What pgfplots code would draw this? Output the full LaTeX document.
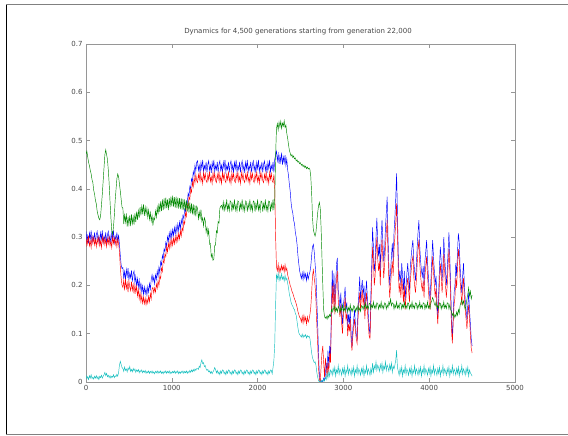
\documentclass[border=0pt]{standalone}
\usepackage{fontspec}
\setmainfont{DejaVu Sans}
\usepackage{pgfplots}
\usepackage{pgfplotstable}
\pgfplotsset{compat=1.18}
\definecolor{sgreen}{RGB}{0,135,0}
\definecolor{scyan}{RGB}{20,190,190}
\definecolor{axgray}{RGB}{150,150,150}
\definecolor{txgray}{RGB}{70,70,70}
\pgfplotstableread{
x b r g c
0 0.312 0.280 0.472 0.014
10 0.292 0.297 0.478 0.007
20 0.303 0.286 0.466 0.011
30 0.287 0.303 0.455 0.005
40 0.309 0.282 0.448 0.013
50 0.296 0.292 0.438 0.008
60 0.314 0.278 0.431 0.015
70 0.289 0.301 0.419 0.007
80 0.302 0.287 0.413 0.010
90 0.294 0.299 0.397 0.006
100 0.310 0.284 0.389 0.012
110 0.288 0.296 0.376 0.008
120 0.305 0.280 0.369 0.013
130 0.312 0.297 0.354 0.007
140 0.292 0.286 0.346 0.011
150 0.303 0.303 0.339 0.005
160 0.287 0.282 0.336 0.012
170 0.309 0.292 0.344 0.009
180 0.296 0.278 0.366 0.014
190 0.314 0.301 0.389 0.008
200 0.289 0.287 0.416 0.012
210 0.302 0.299 0.444 0.015
220 0.294 0.284 0.471 0.020
230 0.310 0.296 0.481 0.013
240 0.288 0.280 0.471 0.018
250 0.305 0.297 0.461 0.011
260 0.312 0.286 0.439 0.014
270 0.292 0.303 0.411 0.009
280 0.303 0.282 0.374 0.013
290 0.287 0.292 0.341 0.008
300 0.309 0.278 0.314 0.012
310 0.296 0.301 0.306 0.010
320 0.314 0.287 0.321 0.015
330 0.289 0.299 0.344 0.009
340 0.302 0.284 0.376 0.013
350 0.294 0.296 0.399 0.011
360 0.310 0.280 0.421 0.016
370 0.288 0.297 0.431 0.012
380 0.305 0.286 0.425 0.020
390 0.285 0.270 0.410 0.035
400 0.262 0.238 0.395 0.043
410 0.242 0.215 0.378 0.036
420 0.235 0.200 0.362 0.030
430 0.237 0.196 0.360 0.028
440 0.214 0.211 0.327 0.022
450 0.229 0.190 0.346 0.031
460 0.212 0.213 0.331 0.024
470 0.233 0.194 0.349 0.027
480 0.219 0.205 0.322 0.021
490 0.236 0.186 0.342 0.029
500 0.211 0.209 0.326 0.025
510 0.225 0.197 0.345 0.032
520 0.216 0.189 0.323 0.022
530 0.231 0.208 0.347 0.026
540 0.208 0.190 0.328 0.021
550 0.224 0.202 0.342 0.028
560 0.230 0.183 0.326 0.023
570 0.206 0.201 0.349 0.027
580 0.219 0.186 0.331 0.020
590 0.198 0.198 0.353 0.025
600 0.214 0.178 0.336 0.022
610 0.197 0.192 0.355 0.026
620 0.211 0.172 0.340 0.019
630 0.190 0.186 0.362 0.024
640 0.206 0.166 0.345 0.021
650 0.186 0.179 0.364 0.025
660 0.199 0.163 0.350 0.019
670 0.181 0.176 0.368 0.023
680 0.197 0.162 0.344 0.020
690 0.183 0.174 0.362 0.024
700 0.194 0.160 0.347 0.018
710 0.180 0.172 0.360 0.022
720 0.198 0.163 0.341 0.019
730 0.186 0.178 0.356 0.023
740 0.204 0.166 0.337 0.018
750 0.192 0.183 0.351 0.022
760 0.212 0.172 0.333 0.019
770 0.222 0.193 0.345 0.023
780 0.208 0.196 0.324 0.018
790 0.218 0.184 0.340 0.021
800 0.203 0.195 0.336 0.017
810 0.222 0.186 0.354 0.022
820 0.212 0.203 0.341 0.019
830 0.230 0.194 0.362 0.023
840 0.218 0.210 0.347 0.018
850 0.238 0.199 0.370 0.022
860 0.226 0.219 0.352 0.019
870 0.249 0.214 0.374 0.023
880 0.242 0.236 0.354 0.018
890 0.262 0.229 0.378 0.021
900 0.255 0.252 0.356 0.017
910 0.276 0.247 0.380 0.022
920 0.270 0.265 0.359 0.019
930 0.289 0.259 0.382 0.023
940 0.281 0.281 0.360 0.018
950 0.301 0.269 0.378 0.022
960 0.291 0.287 0.356 0.019
970 0.309 0.276 0.381 0.023
980 0.296 0.293 0.362 0.017
990 0.313 0.280 0.384 0.021
1000 0.299 0.296 0.364 0.018
1010 0.316 0.283 0.386 0.022
1020 0.303 0.298 0.363 0.019
1030 0.320 0.286 0.383 0.023
1040 0.306 0.301 0.361 0.018
1050 0.323 0.289 0.384 0.022
1060 0.310 0.304 0.360 0.019
1070 0.327 0.292 0.382 0.023
1080 0.313 0.308 0.359 0.017
1090 0.331 0.296 0.381 0.021
1100 0.317 0.313 0.358 0.018
1110 0.336 0.302 0.380 0.022
1120 0.326 0.320 0.357 0.019
1130 0.345 0.312 0.379 0.023
1140 0.338 0.333 0.356 0.018
1150 0.358 0.327 0.378 0.022
1160 0.353 0.350 0.355 0.019
1170 0.374 0.343 0.376 0.023
1180 0.369 0.368 0.353 0.018
1190 0.391 0.361 0.374 0.022
1200 0.384 0.383 0.351 0.019
1210 0.405 0.378 0.372 0.024
1220 0.400 0.400 0.349 0.020
1230 0.421 0.393 0.370 0.025
1240 0.415 0.414 0.347 0.021
1250 0.436 0.404 0.368 0.026
1260 0.428 0.424 0.345 0.022
1270 0.449 0.412 0.366 0.027
1280 0.437 0.430 0.343 0.024
1290 0.455 0.417 0.364 0.028
1300 0.458 0.413 0.360 0.028
1310 0.438 0.430 0.338 0.026
1320 0.449 0.419 0.352 0.033
1330 0.433 0.436 0.340 0.030
1340 0.455 0.415 0.357 0.040
1350 0.442 0.425 0.333 0.046
1360 0.460 0.411 0.340 0.038
1370 0.435 0.434 0.323 0.040
1380 0.448 0.420 0.340 0.032
1390 0.440 0.432 0.334 0.034
1400 0.456 0.417 0.310 0.027
1410 0.434 0.413 0.320 0.024
1420 0.451 0.430 0.304 0.026
1430 0.458 0.419 0.315 0.021
1440 0.438 0.436 0.285 0.023
1450 0.449 0.415 0.287 0.018
1460 0.433 0.425 0.259 0.022
1470 0.455 0.411 0.265 0.017
1480 0.442 0.434 0.252 0.021
1490 0.460 0.420 0.255 0.024
1500 0.435 0.432 0.282 0.030
1510 0.448 0.417 0.284 0.026
1520 0.440 0.413 0.313 0.019
1530 0.456 0.430 0.309 0.024
1540 0.434 0.419 0.332 0.017
1550 0.451 0.436 0.329 0.021
1560 0.458 0.415 0.360 0.015
1570 0.438 0.425 0.364 0.023
1580 0.449 0.411 0.366 0.018
1590 0.433 0.434 0.358 0.025
1600 0.455 0.420 0.373 0.024
1610 0.442 0.432 0.353 0.017
1620 0.460 0.417 0.369 0.021
1630 0.435 0.413 0.359 0.015
1640 0.448 0.430 0.378 0.023
1650 0.440 0.419 0.356 0.018
1660 0.456 0.436 0.367 0.025
1670 0.434 0.415 0.354 0.024
1680 0.451 0.425 0.375 0.017
1690 0.458 0.411 0.373 0.021
1700 0.438 0.434 0.353 0.015
1710 0.449 0.420 0.369 0.023
1720 0.433 0.432 0.359 0.018
1730 0.455 0.417 0.378 0.025
1740 0.442 0.413 0.356 0.024
1750 0.460 0.430 0.367 0.017
1760 0.435 0.419 0.354 0.021
1770 0.448 0.436 0.375 0.015
1780 0.440 0.415 0.373 0.023
1790 0.456 0.425 0.353 0.018
1800 0.434 0.411 0.369 0.025
1810 0.451 0.434 0.359 0.024
1820 0.458 0.420 0.378 0.017
1830 0.438 0.432 0.356 0.021
1840 0.449 0.417 0.367 0.015
1850 0.433 0.413 0.354 0.023
1860 0.455 0.430 0.375 0.018
1870 0.442 0.419 0.373 0.025
1880 0.460 0.436 0.353 0.024
1890 0.435 0.415 0.369 0.017
1900 0.448 0.425 0.359 0.021
1910 0.440 0.411 0.378 0.015
1920 0.456 0.434 0.356 0.023
1930 0.434 0.420 0.367 0.018
1940 0.451 0.432 0.354 0.025
1950 0.458 0.417 0.375 0.024
1960 0.438 0.413 0.373 0.017
1970 0.449 0.430 0.353 0.021
1980 0.433 0.419 0.369 0.015
1990 0.455 0.436 0.359 0.023
2000 0.442 0.415 0.378 0.018
2010 0.460 0.425 0.356 0.025
2020 0.435 0.411 0.367 0.024
2030 0.448 0.434 0.354 0.017
2040 0.440 0.420 0.375 0.021
2050 0.456 0.432 0.373 0.015
2060 0.434 0.417 0.353 0.023
2070 0.451 0.413 0.369 0.018
2080 0.458 0.430 0.359 0.025
2090 0.438 0.419 0.378 0.024
2100 0.449 0.436 0.356 0.017
2110 0.433 0.415 0.367 0.021
2120 0.455 0.425 0.354 0.015
2130 0.442 0.411 0.375 0.023
2140 0.460 0.434 0.373 0.018
2150 0.435 0.420 0.353 0.025
2160 0.448 0.432 0.369 0.024
2170 0.440 0.417 0.359 0.017
2180 0.456 0.413 0.378 0.030
2190 0.434 0.430 0.356 0.045
2200 0.462 0.400 0.380 0.080
2210 0.470 0.300 0.470 0.160
2220 0.478 0.238 0.525 0.222
2230 0.458 0.230 0.535 0.214
2240 0.472 0.244 0.522 0.225
2250 0.452 0.226 0.538 0.210
2260 0.468 0.238 0.528 0.220
2270 0.455 0.229 0.540 0.212
2280 0.475 0.242 0.525 0.224
2290 0.450 0.232 0.536 0.213
2300 0.466 0.240 0.530 0.218
2310 0.454 0.228 0.541 0.209
2320 0.470 0.243 0.527 0.221
2330 0.448 0.230 0.532 0.211
2340 0.462 0.236 0.515 0.215
2350 0.440 0.222 0.505 0.205
2360 0.428 0.215 0.492 0.195
2370 0.410 0.208 0.480 0.182
2380 0.395 0.200 0.474 0.174
2390 0.372 0.195 0.468 0.165
2400 0.358 0.188 0.471 0.160
2410 0.350 0.184 0.465 0.157
2420 0.335 0.178 0.468 0.152
2430 0.328 0.172 0.462 0.150
2440 0.310 0.168 0.464 0.142
2450 0.300 0.162 0.458 0.138
2460 0.285 0.155 0.460 0.125
2470 0.262 0.146 0.455 0.112
2480 0.245 0.140 0.457 0.102
2490 0.230 0.134 0.452 0.098
2500 0.222 0.132 0.454 0.096
2510 0.214 0.124 0.449 0.093
2520 0.226 0.136 0.451 0.099
2530 0.212 0.122 0.446 0.092
2540 0.228 0.138 0.449 0.097
2550 0.216 0.126 0.444 0.094
2560 0.224 0.134 0.447 0.098
2570 0.210 0.120 0.442 0.091
2580 0.225 0.135 0.445 0.096
2590 0.213 0.124 0.441 0.093
2600 0.222 0.130 0.443 0.095
2610 0.228 0.140 0.440 0.090
2620 0.240 0.155 0.425 0.075
2630 0.262 0.185 0.390 0.060
2640 0.280 0.220 0.340 0.050
2650 0.285 0.232 0.315 0.045
2660 0.270 0.215 0.308 0.040
2670 0.245 0.200 0.302 0.042
2680 0.220 0.170 0.310 0.035
2690 0.170 0.120 0.330 0.020
2700 0.120 0.080 0.350 0.010
2710 0.060 0.030 0.365 0.003
2720 0.015 0.005 0.372 0.000
2730 0.002 0.000 0.360 0.002
2740 0.000 0.030 0.320 0.000
2750 0.003 0.060 0.260 0.004
2760 0.000 0.075 0.200 0.001
2770 0.008 0.040 0.150 0.006
2780 0.004 0.010 0.135 0.002
2790 0.015 0.050 0.132 0.010
2800 0.040 0.030 0.136 0.005
2810 0.020 0.010 0.130 0.018
2820 0.065 0.040 0.138 0.008
2830 0.030 0.020 0.133 0.022
2840 0.075 0.060 0.140 0.012
2850 0.050 0.040 0.136 0.025
2860 0.150 0.130 0.150 0.022
2870 0.232 0.200 0.145 0.014
2880 0.170 0.155 0.155 0.028
2890 0.225 0.205 0.148 0.018
2900 0.160 0.140 0.158 0.031
2910 0.200 0.180 0.146 0.012
2920 0.245 0.215 0.153 0.025
2930 0.257 0.230 0.145 0.019
2940 0.190 0.170 0.157 0.034
2950 0.175 0.150 0.152 0.016
2960 0.150 0.135 0.144 0.027
2970 0.185 0.160 0.154 0.022
2980 0.140 0.120 0.148 0.014
2990 0.120 0.100 0.160 0.028
3000 0.160 0.140 0.147 0.018
3010 0.175 0.155 0.153 0.031
3020 0.197 0.175 0.146 0.012
3030 0.150 0.130 0.158 0.025
3040 0.165 0.140 0.156 0.019
3050 0.114 0.095 0.145 0.034
3060 0.140 0.120 0.154 0.016
3070 0.120 0.105 0.148 0.027
3080 0.150 0.130 0.160 0.022
3090 0.100 0.085 0.147 0.014
3100 0.073 0.065 0.153 0.028
3110 0.110 0.095 0.146 0.018
3120 0.130 0.115 0.158 0.031
3130 0.149 0.130 0.156 0.012
3140 0.120 0.105 0.145 0.025
3150 0.100 0.090 0.154 0.019
3160 0.090 0.080 0.148 0.034
3170 0.150 0.130 0.160 0.016
3180 0.180 0.160 0.147 0.027
3190 0.218 0.185 0.153 0.022
3200 0.170 0.150 0.146 0.014
3210 0.195 0.175 0.158 0.028
3220 0.211 0.190 0.157 0.018
3230 0.180 0.160 0.150 0.031
3240 0.200 0.180 0.159 0.012
3250 0.150 0.130 0.153 0.025
3260 0.185 0.165 0.164 0.019
3270 0.210 0.185 0.152 0.034
3280 0.170 0.150 0.158 0.016
3290 0.140 0.120 0.151 0.027
3300 0.110 0.095 0.163 0.022
3310 0.100 0.090 0.162 0.014
3320 0.180 0.155 0.151 0.028
3330 0.240 0.210 0.160 0.018
3340 0.320 0.280 0.154 0.039
3350 0.280 0.250 0.166 0.020
3360 0.230 0.200 0.153 0.033
3370 0.246 0.220 0.159 0.027
3380 0.300 0.265 0.152 0.042
3390 0.340 0.300 0.164 0.024
3400 0.290 0.255 0.163 0.035
3410 0.260 0.230 0.151 0.030
3420 0.285 0.250 0.160 0.022
3430 0.230 0.200 0.154 0.036
3440 0.300 0.265 0.166 0.026
3450 0.335 0.295 0.153 0.039
3460 0.290 0.255 0.159 0.020
3470 0.250 0.215 0.152 0.033
3480 0.270 0.240 0.164 0.027
3490 0.320 0.280 0.163 0.042
3500 0.350 0.310 0.151 0.024
3510 0.384 0.335 0.160 0.035
3520 0.300 0.265 0.154 0.030
3530 0.240 0.210 0.166 0.022
3540 0.200 0.175 0.160 0.036
3550 0.230 0.200 0.172 0.026
3560 0.260 0.230 0.158 0.039
3570 0.287 0.250 0.164 0.020
3580 0.250 0.220 0.163 0.033
3590 0.310 0.275 0.151 0.027
3600 0.340 0.300 0.160 0.035
3610 0.380 0.330 0.154 0.045
3620 0.432 0.370 0.166 0.066
3630 0.350 0.310 0.153 0.030
3640 0.260 0.230 0.159 0.022
3650 0.210 0.185 0.152 0.014
3660 0.230 0.205 0.164 0.028
3670 0.200 0.175 0.163 0.018
3680 0.246 0.215 0.151 0.031
3690 0.220 0.195 0.160 0.012
3700 0.190 0.165 0.154 0.025
3710 0.230 0.200 0.166 0.019
3720 0.170 0.150 0.153 0.034
3730 0.200 0.175 0.159 0.016
3740 0.225 0.200 0.152 0.027
3750 0.246 0.215 0.164 0.022
3760 0.215 0.190 0.163 0.014
3770 0.190 0.165 0.151 0.028
3780 0.240 0.210 0.160 0.018
3790 0.260 0.230 0.154 0.031
3800 0.280 0.250 0.166 0.012
3810 0.294 0.260 0.153 0.025
3820 0.250 0.220 0.159 0.019
3830 0.230 0.200 0.152 0.034
3840 0.210 0.185 0.164 0.016
3850 0.240 0.210 0.163 0.027
3860 0.280 0.245 0.151 0.022
3870 0.310 0.275 0.160 0.014
3880 0.335 0.295 0.154 0.028
3890 0.280 0.245 0.166 0.018
3900 0.250 0.220 0.153 0.031
3910 0.230 0.200 0.159 0.012
3920 0.218 0.190 0.152 0.025
3930 0.240 0.210 0.164 0.019
3940 0.200 0.175 0.163 0.034
3950 0.250 0.220 0.151 0.016
3960 0.270 0.240 0.160 0.027
3970 0.294 0.260 0.154 0.022
3980 0.250 0.220 0.166 0.014
3990 0.220 0.195 0.153 0.028
4000 0.190 0.165 0.159 0.018
4010 0.170 0.150 0.152 0.031
4020 0.210 0.185 0.164 0.012
4030 0.250 0.220 0.168 0.025
4040 0.294 0.260 0.175 0.019
4050 0.260 0.230 0.170 0.034
4060 0.230 0.200 0.162 0.016
4070 0.200 0.175 0.158 0.027
4080 0.220 0.195 0.166 0.022
4090 0.170 0.150 0.153 0.014
4100 0.135 0.120 0.159 0.028
4110 0.180 0.160 0.152 0.018
4120 0.240 0.210 0.164 0.031
4130 0.280 0.245 0.163 0.012
4140 0.250 0.220 0.151 0.025
4150 0.210 0.185 0.160 0.019
4160 0.240 0.210 0.154 0.034
4170 0.300 0.265 0.166 0.016
4180 0.260 0.230 0.153 0.027
4190 0.230 0.200 0.159 0.022
4200 0.200 0.175 0.152 0.014
4210 0.230 0.200 0.164 0.028
4220 0.270 0.240 0.163 0.018
4230 0.310 0.275 0.151 0.031
4240 0.260 0.230 0.160 0.012
4250 0.200 0.175 0.150 0.025
4260 0.130 0.110 0.145 0.019
4270 0.087 0.080 0.138 0.034
4280 0.140 0.125 0.143 0.016
4290 0.184 0.160 0.133 0.027
4300 0.200 0.175 0.140 0.022
4310 0.246 0.215 0.135 0.014
4320 0.220 0.195 0.145 0.028
4330 0.270 0.240 0.138 0.018
4340 0.308 0.275 0.150 0.031
4350 0.290 0.255 0.142 0.012
4360 0.240 0.210 0.158 0.025
4370 0.210 0.185 0.165 0.019
4380 0.184 0.160 0.170 0.034
4390 0.220 0.195 0.160 0.016
4400 0.246 0.215 0.168 0.027
4410 0.200 0.175 0.158 0.022
4420 0.170 0.150 0.150 0.014
4430 0.150 0.130 0.160 0.028
4440 0.128 0.110 0.172 0.018
4450 0.160 0.140 0.182 0.031
4460 0.184 0.160 0.195 0.012
4470 0.150 0.130 0.178 0.025
4480 0.120 0.100 0.188 0.019
4490 0.090 0.070 0.172 0.016
4500 0.075 0.060 0.180 0.012
}\data
\begin{document}
\begin{tikzpicture}[x=1pt,y=1pt]
\useasboundingbox (0,0) rectangle (568,436);
\draw[black,line width=0.8pt] (6,2) -- (6,432);
\draw[gray,line width=0.8pt] (6,432) -- (568,432);
\draw[gray,line width=0.8pt] (6,2) -- (568,2);
\begin{axis}[
  at={(86pt,54pt)}, anchor=south west,
  scale only axis, width=429pt, height=338pt,
  xmin=0, xmax=5000, ymin=0, ymax=0.7,
  xtick={0,1000,2000,3000,4000,5000},
  ytick={0,0.1,0.2,0.3,0.4,0.5,0.6,0.7},
  yticklabels={0,0.1,0.2,0.3,0.4,0.5,0.6,0.7},
  /pgf/number format/1000 sep={},
  /pgf/number format/assume math mode=true,
  axis line style={axgray, line width=0.6pt},
  tick style={axgray, line width=0.6pt},
  major tick length=4pt,
  tick align=inside,
  ticklabel style={font=\fontsize{7}{8}\selectfont, text=txgray},
  every axis plot/.append style={line width=0.45pt},
]
\addplot[blue, no marks] table[x=x,y=b]{\data};
\addplot[red, no marks] table[x=x,y=r]{\data};
\addplot[sgreen, no marks] table[x=x,y=g]{\data};
\addplot[scyan, no marks] table[x=x,y=c]{\data};
\end{axis}
\node[font=\fontsize{7}{8}\selectfont, text=txgray] at (298,404) {Dynamics for 4,500 generations starting from generation 22,000};
\end{tikzpicture}
\end{document}
